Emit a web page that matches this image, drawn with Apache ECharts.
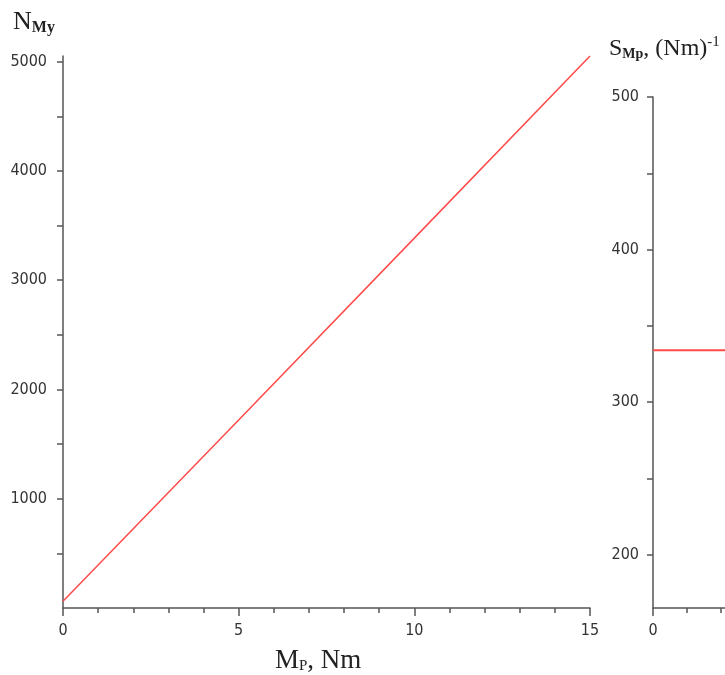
<!DOCTYPE html>
<html>
<head>
<meta charset="utf-8">
<script src="https://cdn.jsdelivr.net/npm/echarts@6/dist/echarts.min.js"></script>
<style>
  html, body { margin: 0; padding: 0; background: #fff; }
  #chart { width: 725px; height: 675px; }
</style>
</head>
<body>
<div id="chart"></div>
<script>
// left panel: N_My against M_P
const mpValues = [0, 5, 10, 15];
const nmyValues = [62, 1720, 3385, 5052];
const nmyLabels = [1000, 2000, 3000, 4000, 5000];
const nmyTicks = [500, 1000, 1500, 2000, 2500, 3000, 3500, 4000, 4500, 5000];

// right panel: S_Mp (constant)
const smpX = [0, 15];
const smpValues = [334, 334];
const smpLabels = [200, 300, 400, 500];
const smpTicks = [200, 250, 300, 350, 400, 450, 500];

const axisColor = '#555';
const labelFont = { color: '#333', fontFamily: '"DejaVu Sans Condensed", "Liberation Sans"', fontSize: 16, formatter: v => String(v) };
const serif = 'Liberation Serif';

let chart = echarts.init(document.getElementById('chart'));

let option = {
    animation: false,
    backgroundColor: '#fff',
    grid: [
        { left: 63, top: 56, width: 527, bottom: 67, outerBoundsMode: 'none' },
        { left: 653, top: 97, width: 505, bottom: 67, outerBoundsMode: 'none' }
    ],
    xAxis: [
        {
            type: 'value', gridIndex: 0, min: 0, max: 15, interval: 5,
            splitLine: { show: false },
            axisLine: { onZero: false, lineStyle: { color: axisColor, width: 1.5 } },
            axisTick: { length: 8, lineStyle: { color: axisColor, width: 1.5 } },
            minorTick: { show: true, splitNumber: 5, length: 5, lineStyle: { color: axisColor, width: 1.5 } },
            axisLabel: Object.assign({ margin: 15 }, labelFont)
        },
        {
            type: 'value', gridIndex: 1, min: 0, max: 15, interval: 5,
            splitLine: { show: false },
            axisLine: { onZero: false, lineStyle: { color: axisColor, width: 1.5 } },
            axisTick: { length: 8, lineStyle: { color: axisColor, width: 1.5 } },
            minorTick: { show: true, splitNumber: 5, length: 5, lineStyle: { color: axisColor, width: 1.5 } },
            axisLabel: Object.assign({ margin: 15 }, labelFont)
        }
    ],
    yAxis: [
        {
            type: 'value', gridIndex: 0, min: 0, max: 5052,
            splitLine: { show: false },
            axisLine: { show: true, onZero: false, lineStyle: { color: axisColor, width: 1.5 } },
            axisTick: { show: true, length: 6, customValues: nmyTicks, lineStyle: { color: axisColor, width: 1.5 } },
            axisLabel: Object.assign({ margin: 16, customValues: nmyLabels }, labelFont)
        },
        {
            type: 'value', gridIndex: 1, min: 165, max: 500,
            splitLine: { show: false },
            axisLine: { show: true, onZero: false, lineStyle: { color: axisColor, width: 1.5 } },
            axisTick: { show: true, length: 6, customValues: smpTicks, lineStyle: { color: axisColor, width: 1.5 } },
            axisLabel: Object.assign({ margin: 14, customValues: smpLabels }, labelFont)
        }
    ],
    graphic: [
        {
            type: 'text', left: 13, top: 9,
            style: {
                text: '{a|N}{b|My}',
                rich: {
                    a: { fontFamily: serif, fontSize: 26, fill: '#222' },
                    b: { fontFamily: serif, fontSize: 16, fontWeight: 'bold', fill: '#222', padding: [12, 0, 0, 0] }
                }
            }
        },
        {
            type: 'text', left: 275, top: 647,
            style: {
                text: '{a|M}{b|P}{a|, Nm}',
                rich: {
                    a: { fontFamily: serif, fontSize: 27, fill: '#222' },
                    b: { fontFamily: serif, fontSize: 15, fill: '#222', padding: [11, 0, 0, 0] }
                }
            }
        },
        {
            type: 'text', left: 609, top: 35,
            style: {
                text: '{a|S}{b|Mp}{a|, (Nm)}{c|-1}',
                rich: {
                    a: { fontFamily: serif, fontSize: 24, fill: '#222' },
                    b: { fontFamily: serif, fontSize: 14, fontWeight: 'bold', fill: '#222', padding: [11, 0, 0, 0] },
                    c: { fontFamily: serif, fontSize: 15, fill: '#222', padding: [0, 0, 12, 0] }
                }
            }
        }
    ],
    series: [
        {
            type: 'line', xAxisIndex: 0, yAxisIndex: 0,
            data: mpValues.map((x, i) => [x, nmyValues[i]]),
            showSymbol: false,
            lineStyle: { color: '#ff4a4a', width: 1.5 }
        },
        {
            type: 'line', xAxisIndex: 1, yAxisIndex: 1,
            data: smpX.map((x, i) => [x, smpValues[i]]),
            showSymbol: false,
            lineStyle: { color: '#ff4a4a', width: 2 }
        }
    ]
};
option && chart.setOption(option);
</script>
</body>
</html>
